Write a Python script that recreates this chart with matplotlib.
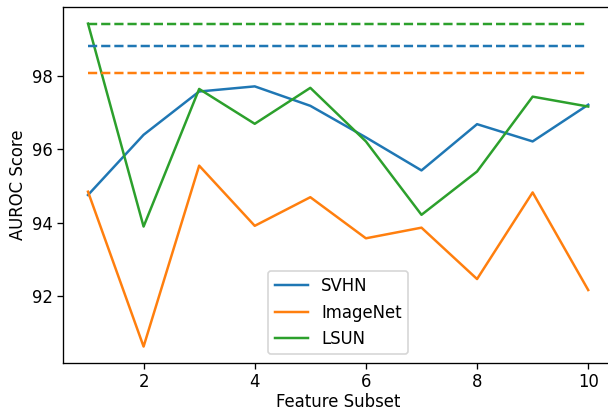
import matplotlib
matplotlib.use("Agg")
import matplotlib.pyplot as plt
import numpy as np

# AUROC per feature subset for each OOD dataset
subsets = np.arange(1, 11)
svhn = [94.75, 96.39, 97.57, 97.71, 97.18, 96.32, 95.42, 96.68, 96.21, 97.21]
imagenet = [94.84, 90.62, 95.55, 93.91, 94.69, 93.57, 93.86, 92.46, 94.82, 92.16]
lsun = [99.42, 93.89, 97.64, 96.69, 97.67, 96.21, 94.21, 95.39, 97.43, 97.16]

# score obtained with all features combined
svhn_all = 98.80
imagenet_all = 98.07
lsun_all = 99.42

dpi = 119.2
fig = plt.figure(figsize=(608 / dpi, 415 / dpi), dpi=dpi)
ax = fig.add_axes([0.1036, 0.126, 0.905, 0.856])

ax.plot(subsets, svhn, color='C0', label='SVHN')
ax.plot(subsets, imagenet, color='C1', label='ImageNet')
ax.plot(subsets, lsun, color='C2', label='LSUN')

ax.plot(subsets, [svhn_all] * len(subsets), color='C0', linestyle='--')
ax.plot(subsets, [imagenet_all] * len(subsets), color='C1', linestyle='--')
ax.plot(subsets, [lsun_all] * len(subsets), color='C2', linestyle='--')

ax.tick_params(pad=2.5)
ax.set_xlabel('Feature Subset', labelpad=1.5)
ax.set_ylabel('AUROC Score', labelpad=3)
ax.legend(loc='lower center')

fig.savefig('out.png', dpi=dpi)
